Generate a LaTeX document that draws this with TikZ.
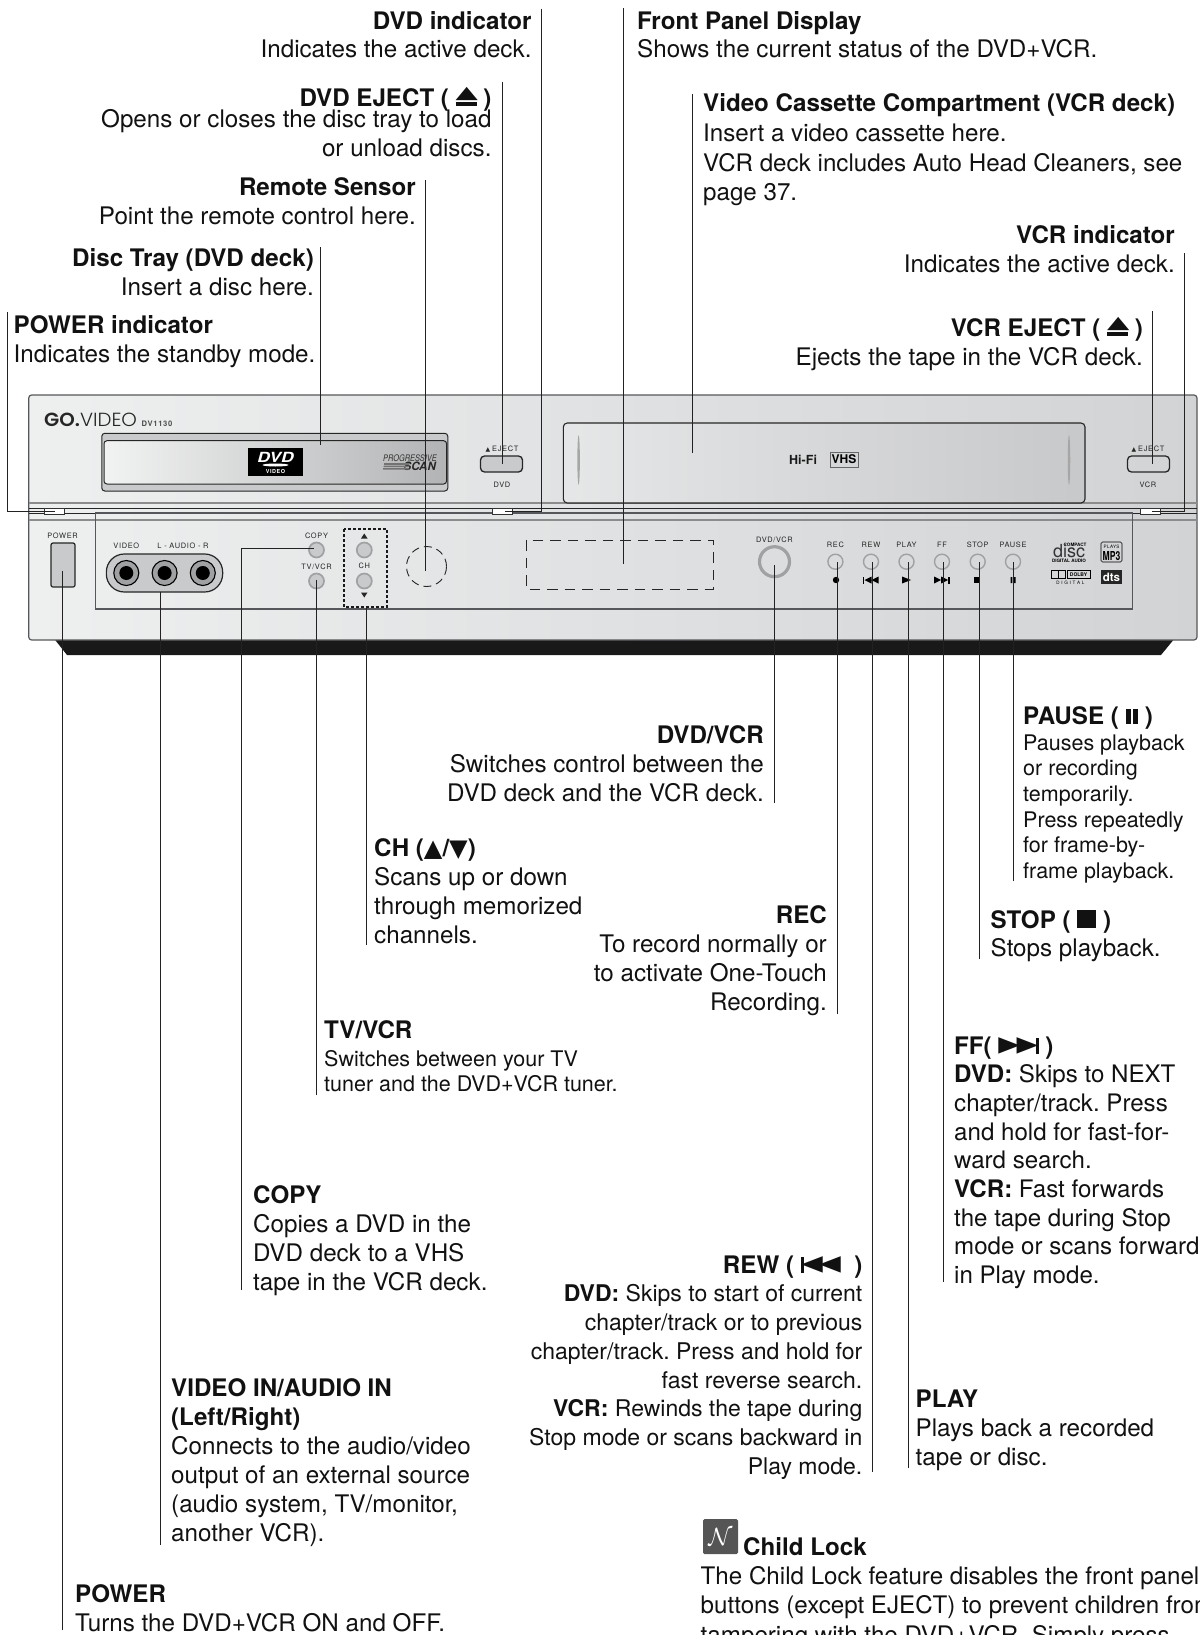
\documentclass[tikz,border=0pt]{standalone}
\usepackage{fontspec}
\setmainfont{TeX Gyre Heros}
\setsansfont{TeX Gyre Heros}
\newfontfamily\symf{DejaVu Sans}
\newfontfamily\panelf[LetterSpace=9]{TeX Gyre Heros}
\newfontfamily\logolight{Poppins Light}
\newfontfamily\logobold{Poppins SemiBold}
\definecolor{ink}{HTML}{111111}
\definecolor{leader}{HTML}{222222}
\definecolor{frame}{HTML}{55575A}
\definecolor{bodyL}{HTML}{EEEFEF}
\definecolor{bodyR}{HTML}{D2D3D5}
\definecolor{btn}{HTML}{C9CACC}
\definecolor{ring}{HTML}{9FA1A3}
\definecolor{iconbg}{HTML}{555555}
\newcommand\leftblk[1]{\begin{tabular}[t]{@{}l@{}}#1\end{tabular}}
\newcommand\rightblk[1]{\begin{tabular}[t]{@{}r@{}}#1\end{tabular}}
\newcommand\hd[1]{{\fontsize{24.15}{29}\selectfont\bfseries #1}}
\newcommand\ejsym{\makebox[21pt][l]{\rlap{\rule{21pt}{4pt}}\raisebox{8pt}{\scalebox{1}[0.6]{\symf\fontsize{29}{29}\selectfont\char"25B2}}}}
\newcommand\rtri{\raisebox{2.6pt}{\scalebox{1}[0.77]{\symf\fontsize{28}{28}\selectfont\char"25B6}}}
\newcommand\ltri{\raisebox{2.6pt}{\scalebox{1}[0.77]{\symf\fontsize{28}{28}\selectfont\char"25C0}}}
\newcommand\ffsym{\mbox{\rtri\kern-3.5pt\rtri\kern-2.5pt\rule{3pt}{16.5pt}}}
\newcommand\rewsym{\mbox{\rule{3pt}{16.5pt}\kern-2.5pt\ltri\kern-3.5pt\ltri}}
\newcommand\pausesym{\mbox{\rule{5.5pt}{15pt}\kern1.5pt\rule{5.5pt}{15pt}}}
\newcommand\stopsym{\mbox{\rule{19pt}{18pt}}}
\tikzset{
  x=1pt,y=-1pt,
  lab/.style={inner sep=0pt,text=ink,font=\fontsize{24.2}{29}\selectfont},
  labs/.style={inner sep=0pt,text=ink,font=\fontsize{21.5}{25.6}\selectfont},
  lw/.style={anchor=base west},
  le/.style={anchor=base east},
  lead/.style={draw=leader,line width=1pt},
  ptxt/.style={inner sep=0pt,text=black!85,font=\panelf\fontsize{7.4}{8}\selectfont},
  roundbtn/.style={circle,draw=ring,line width=1.7pt,minimum size=15pt,inner sep=0pt},
  filledbtn/.style={roundbtn,fill=btn},
  jack/.style={circle,draw=black,line width=1.1pt,fill=ring,minimum size=25pt,inner sep=0pt},
  jackin/.style={circle,fill=black,minimum size=14pt,inner sep=0pt},
  ejectbtn/.style={draw=black!85,line width=1.3pt,rounded corners=4pt,fill=btn,minimum width=42pt,minimum height=16pt,inner sep=0pt},
  indic/.style={draw=black!80,line width=.7pt,fill=white,minimum width=20pt,minimum height=6pt,inner sep=0pt},
  sliver/.style={ellipse,fill=black!35,minimum width=2.5pt,minimum height=50pt,inner sep=0pt},
}
\usetikzlibrary{shapes.geometric}
\begin{document}
\frenchspacing
\begin{tikzpicture}
\useasboundingbox (0,0) rectangle (1199,1635);
\clip (0,0) rectangle (1199,1635);
% ---------- device body
\fill[black!90] (53.6,638) -- (67,655) -- (1161,655) -- (1175,638) -- cycle;
\path[left color=bodyL,right color=bodyR,draw=frame,line width=1.2pt,rounded corners=3pt]
  (28.7,395) rectangle (1197,640);
\draw[black!45,line width=1.3pt] (29,503) -- (1197,503);
\draw[black!85,line width=.8pt] (29,508) -- (1197,508);
\draw[black!85,line width=.8pt] (29,513) -- (1197,513);
\draw[black!45,line width=1.3pt] (29,520) -- (1197,520);
\draw[frame,line width=1.2pt] (95.7,513) rectangle (1132.7,609);
% logo
\node[inner sep=0pt,anchor=base west,text=black!85,font=\fontsize{19}{20}\selectfont] (brand) at (44,426.5) {\scalebox{1.04}[1]{{\logobold GO.}{\logolight VIDEO}}};
\node[inner sep=0pt,anchor=base west,text=black!70,font=\panelf\fontsize{7.6}{8}\selectfont\bfseries] (model) at (141.5,426) {DV1130};
% disc tray
\draw[black!85,line width=1pt,fill=btn,rounded corners=3pt] (101.8,433.3) rectangle (447.8,491);
\path[left color=bodyL!80!white,middle color=bodyL,right color=bodyR!85!black,draw=black!85,line width=1pt,rounded corners=3pt] (104,440.7) rectangle (446.6,484);
\node[fill=black,minimum width=55pt,minimum height=28pt,inner sep=0pt] (dvdlogo) at (275.5,462) {};
\node[inner sep=0pt,text=white,font=\fontsize{14}{14}\selectfont\bfseries\itshape] (dvdword) at (275.5,457.5) {\scalebox{1.25}[1]{DVD}};
\node[ellipse,fill=white,minimum width=26pt,minimum height=3pt,inner sep=0pt] (dvddisc) at (275.5,465) {};
\node[inner sep=0pt,text=white,font=\panelf\fontsize{5.5}{6}\selectfont\bfseries] (dvdvideo) at (275.5,471.5) {VIDEO};
\node[inner sep=0pt,anchor=base east,text=black!80,font=\fontsize{9}{9}\selectfont\itshape] (prog) at (437,461.5) {\scalebox{.82}[1]{PROGRESSIVE}};
\node[inner sep=0pt,anchor=base east,text=black!85,font=\fontsize{11.5}{12}\selectfont\bfseries\itshape] (scan) at (436,470.5) {SCAN};
\fill[black!55] (384,463) rectangle (409,464.8) (383.5,465.6) rectangle (409,467.2) (383,468) rectangle (409,469.5);
% DVD eject
\node[ejectbtn] (ejdvd) at (501.5,464) {};
\node[ptxt] (ejdvdt) at (502,449) {\symf\fontsize{6}{6}\selectfont\char"25B2\ \panelf\fontsize{7.4}{8}\selectfont EJECT};
\node[ptxt] (ejdvdl) at (502,484.5) {DVD};
% VCR door
\path[left color=bodyL!70!bodyR,middle color=bodyL,right color=bodyR!95!black,draw=black!85,line width=1.1pt,rounded corners=4pt]
  (563.3,503) -- (563.3,423) -- (1085,423) -- (1085,503) -- cycle;
\node[sliver] (sl) at (578.6,460) {};
\node[sliver] (sr) at (1069,460) {};
\node[inner sep=0pt,anchor=base west,text=black!90,font=\fontsize{12.5}{13}\selectfont\bfseries] (hifi) at (789,464) {Hi-Fi};
\node[draw=black!60,line width=.5pt,inner sep=0pt,minimum width=28pt,minimum height=15pt,text=black,font=\fontsize{12}{12}\selectfont\bfseries] (vhs) at (844,459.5) {VHS};
% VCR eject
\node[ejectbtn,fill=none] (ejvcr) at (1148.5,464) {};
\node[ptxt] (ejvcrt) at (1148,449) {\symf\fontsize{6}{6}\selectfont\char"25B2\ \panelf\fontsize{7.4}{8}\selectfont EJECT};
\node[ptxt] (ejvcrl) at (1148,484.5) {VCR};
% indicators
\node[indic] (indpw) at (54.2,511) {};
\node[indic] (inddvd) at (502.5,511) {};
\node[indic] (indvcr) at (1150.5,511) {};
% power
\node[ptxt] (pwt) at (62.5,535.5) {POWER};
\node[draw=black!85,line width=1.2pt,fill=btn,rounded corners=2pt,minimum width=24pt,minimum height=44pt,inner sep=0pt] (pw) at (63,565) {};
% jacks
\node[ptxt] (vidt) at (126.3,546) {VIDEO};
\node[ptxt] (audt) at (183,546) {L - AUDIO - R};
\node[draw=black!85,line width=1.2pt,fill=btn,rounded corners=18pt,minimum width=116.3pt,minimum height=38pt,inner sep=0pt] (jackpanel) at (164.5,573) {};
\foreach \n/\cx in {j1/126.3,j2/164.6,j3/202.8}{
  \node[jack] (\n) at (\cx,573) {};
  \node[jackin] (\n i) at (\cx,573) {};
}
% copy, tv/vcr, ch
\node[ptxt] (copyt) at (316.5,535.5) {COPY};
\node[filledbtn] (copyb) at (316.5,550) {};
\node[ptxt] (tvt) at (316.5,567) {TV/VCR};
\node[filledbtn] (tvb) at (316.5,581) {};
\node[filledbtn] (chup) at (364.3,550) {};
\node[filledbtn] (chdn) at (364.3,581) {};
\node[ptxt] (cht) at (364.3,566) {CH};
\fill[black!85] (361,538.5) -- (367.5,538.5) -- (364.3,533.5) -- cycle;
\fill[black!85] (361,592.5) -- (367.5,592.5) -- (364.3,597.5) -- cycle;
\draw[black!90,line width=1.3pt,densely dashed] (344,529) rectangle (387,607);
% remote sensor
\node[circle,draw=black!85,line width=.9pt,dash pattern=on 8pt off 5pt,minimum size=40pt,inner sep=0pt] (sensor) at (426.5,566.5) {};
% display
\draw[black!85,line width=1pt,dash pattern=on 10.5pt off 7pt] (526,540) rectangle (713,589);
% dvd/vcr
\node[ptxt] (dvt) at (774.5,540) {DVD/VCR};
\node[circle,draw=ring,line width=3.2pt,minimum size=30pt,inner sep=0pt] (dvb) at (774.5,561.7) {};
% transport
\foreach \n/\cx/\t in {rec/835.4/REC,rew/871/REW,play/906.5/PLAY,ff/942/FF,stop/977.7/STOP,pause/1013/PAUSE}{
  \node[ptxt] (\n t) at (\cx,545) {\t};
  \node[roundbtn,line width=1.4pt] (\n b) at (\cx,561.7) {};
}
\fill[black] (836,580) circle (3.2);
\fill[black] (863,576.5) rectangle (864.2,583.5);
\fill[black] (864.5,580) -- (871.5,576.5) -- (871.5,583.5) -- cycle (871.5,580) -- (878.5,576.5) -- (878.5,583.5) -- cycle;
\fill[black] (902,576.5) -- (911,580) -- (902,583.5) -- cycle;
\fill[black] (934,576.5) -- (941,580) -- (934,583.5) -- cycle (941,576.5) -- (948,580) -- (941,583.5) -- cycle;
\fill[black] (948.3,576.5) rectangle (949.5,583.5);
\fill[black] (973.5,577) rectangle (979.5,583);
\fill[black] (1010.6,577) rectangle (1012.4,583) (1013.8,577) rectangle (1015.6,583);
% certification logos
\node[inner sep=0pt,text=black,font=\fontsize{4.6}{5}\selectfont\bfseries] (cdtop) at (1075,544.5) {COMPACT};
\node[inner sep=0pt,anchor=base west,text=black!80,font=\fontsize{18}{18}\selectfont] (cdword) at (1053,557.5) {disc};
\node[inner sep=0pt,text=black,font=\fontsize{4.6}{5}\selectfont\bfseries] (cdbot) at (1069,561) {DIGITAL AUDIO};
\node[draw=black,line width=.6pt,rounded corners=1.5pt,minimum width=21pt,minimum height=20pt,inner sep=0pt] (mp3) at (1111.5,552) {};
\node[inner sep=0pt,text=black,font=\panelf\fontsize{4.6}{5}\selectfont] (mp3a) at (1111.5,546.5) {PLAYS};
\node[inner sep=0pt,text=black,font=\fontsize{9.5}{10}\selectfont\bfseries] (mp3b) at (1111.5,556) {\scalebox{.9}[1.3]{MP3}};
\node[draw=black,line width=.5pt,minimum width=14pt,minimum height=8pt,inner sep=0pt] (dd) at (1058.5,574.5) {};
\draw[black,line width=1.2pt] (1058.5,570.5) -- (1058.5,578.5);
\node[draw=black,line width=.5pt,minimum width=23pt,minimum height=8pt,inner sep=0pt,text=black,font=\fontsize{5}{5}\selectfont\bfseries] (dolby) at (1078.5,574.5) {DOLBY};
\node[inner sep=0pt,text=black,font=\panelf\fontsize{4.6}{5}\selectfont] (ddig) at (1070.5,582.5) {D I G I T A L};
\node[fill=black!85,minimum width=21.5pt,minimum height=13.5pt,inner sep=0pt,text=white,font=\fontsize{11.5}{11}\selectfont\bfseries] (dts) at (1111.5,577) {dts};
% ---------- leader coordinates
\coordinate (cDVDi) at (541,9);      \coordinate (cDVDiE) at (505,511);
\coordinate (cFront) at (623,8);     \coordinate (cFrontE) at (623,564);
\coordinate (cEj) at (502,82);       \coordinate (cEjE) at (502,464);
\coordinate (cVid) at (692,94);      \coordinate (cVidE) at (692,453);
\coordinate (cRem) at (425,180);     \coordinate (cRemE) at (425,571);
\coordinate (cVCRi) at (1184,253);   \coordinate (cVCRiE) at (1152,511);
\coordinate (cTray) at (320.7,247);  \coordinate (cTrayE) at (320.7,445);
\coordinate (cPWi) at (7.5,312);     \coordinate (cPWiE) at (55,511);
\coordinate (cVej) at (1152,311);    \coordinate (cVejE) at (1152,464);
\coordinate (cPower) at (62.8,1630); \coordinate (cPowerE) at (62.8,571);
\coordinate (cAud) at (160,1545);    \coordinate (cAudE) at (160,592);
\coordinate (cCopy) at (241.5,1290); \coordinate (cCopyE) at (314,548.5);
\coordinate (cTV) at (316.9,1095);   \coordinate (cTVE) at (316.9,580);
\coordinate (cCH) at (366.6,945);    \coordinate (cCHE) at (366.6,607);
\coordinate (cDV) at (774,803);      \coordinate (cDVE) at (774,565);
\coordinate (cRec) at (837.3,1014);  \coordinate (cRecE) at (837.3,562);
\coordinate (cRew) at (872.5,1472);  \coordinate (cRewE) at (872.5,562);
\coordinate (cPlay) at (908.5,1468); \coordinate (cPlayE) at (908.5,562);
\coordinate (cFF) at (943,1282);     \coordinate (cFFE) at (943,562);
\coordinate (cStop) at (979,959);    \coordinate (cStopE) at (979,562);
\coordinate (cPause) at (1013.7,881);\coordinate (cPauseE) at (1013.7,562);
% ---------- leaders
\draw[lead] (cDVDi) |- (cDVDiE);
\draw[lead] (cVCRi) |- (cVCRiE);
\draw[lead] (cPWi) |- (cPWiE);
\draw[lead] (cCopy) |- (cCopyE);
\foreach \a/\b in {cFront/cFrontE,cEj/cEjE,cVid/cVidE,cRem/cRemE,cTray/cTrayE,cVej/cVejE,cPower/cPowerE,cAud/cAudE,cTV/cTVE,cCH/cCHE,cDV/cDVE,cRec/cRecE,cRew/cRewE,cPlay/cPlayE,cFF/cFFE,cStop/cStopE,cPause/cPauseE}
  \draw[lead] (\a) -- (\b);
% ---------- labels
\node[lab,le] (tDVDi) at (531.7,29.8) {\rightblk{\hd{DVD indicator}\\[-.8pt] Indicates the active deck.}};
\node[lab,lw] (tFront) at (637,29.3) {\leftblk{\hd{Front Panel Display}\\[-1pt] Shows the current status of the DVD+VCR.}};
\node[lab,le] (tEj) at (491.7,106.5) {\rightblk{\hd{DVD EJECT ( \ejsym\ )}\\[-8pt] Opens or closes the disc tray to load\\ or unload discs.}};
\node[lab,lw,font=\fontsize{24.15}{29.6}\selectfont] (tVid) at (703,112) {\leftblk{\hd{Video Cassette Compartment (VCR deck)}\\ Insert a video cassette here.\\ VCR deck includes Auto Head Cleaners, see\\ page 37.}};
\node[lab,le] (tRem) at (416,195) {\rightblk{\hd{Remote Sensor}\\ Point the remote control here.}};
\node[lab,le] (tVCRi) at (1175,243) {\rightblk{\hd{VCR indicator}\\ Indicates the active deck.}};
\node[lab,le] (tTray) at (314,266) {\rightblk{\hd{Disc Tray (DVD deck)}\\ Insert a disc here.}};
\node[lab,lw] (tPWi) at (13.5,333) {\leftblk{\hd{POWER indicator}\\ Indicates the standby mode.}};
\node[lab,le] (tVej) at (1143,336) {\rightblk{\hd{VCR EJECT ( \ejsym\ )}\\ Ejects the tape in the VCR deck.}};
\node[lab,le] (tDV) at (764,743.5) {\rightblk{\hd{DVD/VCR}\\ Switches control between the\\ DVD deck and the VCR deck.}};
\node[labs,lw] (tPause) at (1023,724) {\leftblk{\hd{PAUSE ( \pausesym\ )}\\[.6pt] Pauses playback\\ or recording\\ temporarily.\\ Press repeatedly\\ for frame-by-\\ frame playback.}};
\node[lab,lw] (tCH) at (374,856) {\leftblk{\hd{CH ({\symf\char"25B2}/{\symf\char"25BC})}\\ Scans up or down\\ through memorized\\ channels.}};
\node[lab,lw] (tStop) at (990.5,928) {\leftblk{\hd{STOP ( \stopsym\ )}\\[-1pt] Stops playback.}};
\node[lab,le] (tRec) at (827,923) {\rightblk{\hd{REC}\\ To record normally or\\ to activate One-Touch\\ Recording.}};
\node[labs,lw] (tTV) at (324,1038.5) {\leftblk{\hd{TV/VCR}\\[2pt] Switches between your TV\\ tuner and the DVD+VCR tuner.}};
\node[lab,lw,font=\fontsize{24.1}{28.67}\selectfont] (tFF) at (954,1054) {\leftblk{\hd{FF( \ffsym\ )}\\ \textbf{DVD:} Skips to NEXT\\ chapter/track. Press\\ and hold for fast-for-\\ ward search.\\ \textbf{VCR:} Fast forwards\\ the tape during Stop\\ mode or scans forward\\ in Play mode.}};
\node[lab,lw] (tCopy) at (253,1203) {\leftblk{\hd{COPY}\\ Copies a DVD in the\\ DVD deck to a VHS\\ tape in the VCR deck.}};
\node[lab,le,font=\fontsize{23}{28.75}\selectfont] (tRew) at (862.5,1273) {\rightblk{\hd{REW ( \rewsym\ \ )}\\ \textbf{DVD:} Skips to start of current\\ chapter/track or to previous\\ chapter/track. Press and hold for\\ fast reverse search.\\ \textbf{VCR:} Rewinds the tape during\\ Stop mode or scans backward in\\ Play mode.}};
\node[lab,lw] (tVideo) at (171,1396.5) {\leftblk{\hd{VIDEO IN/AUDIO IN}\\ \hd{(Left/Right)}\\ Connects to the audio/video\\ output of an external source\\ (audio system, TV/monitor,\\ another VCR).}};
\node[lab,lw] (tPlay) at (915.5,1407) {\leftblk{\hd{PLAY}\\ Plays back a recorded\\ tape or disc.}};
\node[lab,lw] (tPower) at (75,1602) {\leftblk{\hd{POWER}\\ Turns the DVD+VCR ON and OFF.}};
% ---------- note
\node[fill=iconbg,rounded corners=1.5pt,minimum width=35pt,minimum height=35pt,inner sep=0pt,text=white,font=\fontsize{30}{30}\selectfont] (noteicon) at (720.5,1536.5) {$\mathcal{N}$};
\node[lab,lw] (tChild) at (743,1555) {\hd{Child Lock}};
\node[lab,lw,font=\fontsize{24.15}{29.5}\selectfont] (tChildB) at (700.5,1584) {\leftblk{The Child Lock feature disables the front panel\\ buttons (except EJECT) to prevent children from\\ tampering with the DVD+VCR. Simply press}};
\end{tikzpicture}
\end{document}
